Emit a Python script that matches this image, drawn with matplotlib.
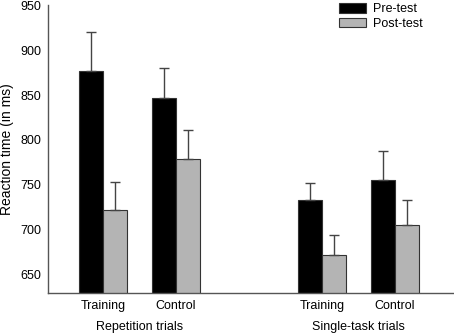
import numpy as np
import matplotlib.pyplot as plt

plt.rcParams['font.family'] = ['Liberation Sans', 'DejaVu Sans']

# Data
conditions = ['Training', 'Control', 'Training', 'Control']
groups = ['Repetition trials', 'Single-task trials']
pre_test = [877, 847, 733, 756]
post_test = [722, 779, 672, 705]
pre_err = [43, 33, 19, 32]
post_err = [31, 32, 22, 28]

x = np.array([0, 1, 3, 4])
w = 0.33

fig = plt.figure(figsize=(4.54, 3.34), dpi=100)
ax = fig.add_axes([0.1057, 0.1228, 0.8943, 0.8622])

err_kw = dict(ecolor='#444444', elinewidth=1, capsize=3.5, capthick=1)
ax.bar(x - w/2, pre_test, w, color='black', edgecolor='#333333', linewidth=0.8,
       yerr=[np.zeros(4), pre_err], error_kw=err_kw, label='Pre-test')
ax.bar(x + w/2, post_test, w, color='#b4b4b4', edgecolor='#333333', linewidth=0.8,
       yerr=[np.zeros(4), post_err], error_kw=err_kw, label='Post-test')

ax.set_ylim(630, 950)
ax.set_xlim(-0.753, 4.81)
ax.set_yticks(range(650, 951, 50))
ax.set_xticks(x)
ax.set_xticklabels(conditions)
ax.tick_params(length=0, labelsize=9, colors='black')
ax.tick_params(axis='y', pad=5)
ax.tick_params(axis='x', pad=5)

for s in ['top', 'right']:
    ax.spines[s].set_visible(False)
for s in ['left', 'bottom']:
    ax.spines[s].set_color('#555555')
    ax.spines[s].set_linewidth(1)

ax.set_ylabel('Reaction time (in ms)', fontsize=10, labelpad=4)

for gx, g in zip([0.5, 3.5], groups):
    ax.text(gx, -0.118, g, transform=ax.get_xaxis_transform(), ha='center', va='center', fontsize=9)

ax.legend(loc='upper right', bbox_to_anchor=(0.95, 1.045), frameon=False, fontsize=9,
          handlelength=2.2, handleheight=0.75, handletextpad=0.5, labelspacing=0.2)

fig.savefig('out.png', dpi=100)
